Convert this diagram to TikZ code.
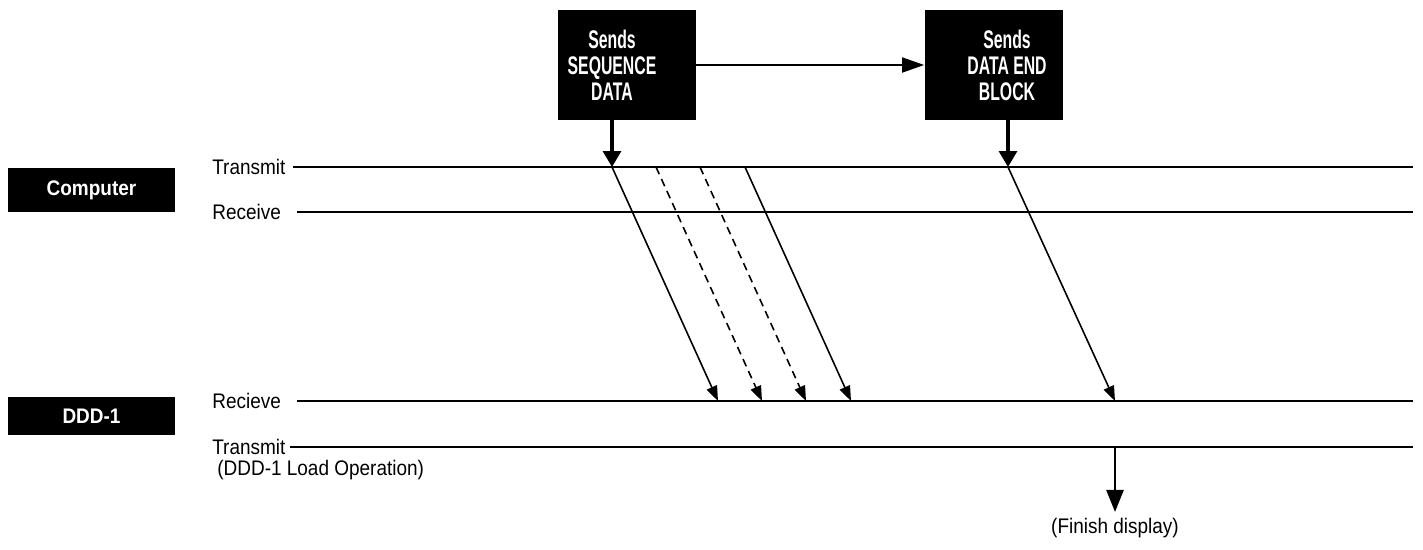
\documentclass[tikz,border=0pt]{standalone}
\usepackage{fontspec}
\setmainfont{Liberation Sans}[FakeStretch=0.9]
\newfontfamily\boxfont{Liberation Sans}[FakeStretch=0.62]
\usetikzlibrary{arrows.meta,positioning}

\begin{document}
\begin{tikzpicture}[
    x=0.02cm, y=-0.02cm,
    font=\fontsize{12}{14.5}\selectfont,
    sendbox/.style={fill=black, minimum width=2.76cm, minimum height=2.2cm, inner sep=0pt},
    sendtext/.style={text=white, align=center, inner sep=0pt, font=\boxfont\bfseries\fontsize{14.5}{14.8}\selectfont},
    unitbox/.style={fill=black, text=white, font=\fontsize{12}{14.5}\selectfont\bfseries, minimum width=3.34cm, inner sep=0pt},
    lane/.style={line width=1.1pt},
    lanelabel/.style={anchor=west, inner sep=0pt},
    push/.style={-{Triangle[length=3.2mm,width=3.6mm]}, line width=1.8pt},
    hand/.style={-{Triangle[length=4.4mm,width=3mm]}, line width=1pt},
    msg/.style={-{Triangle[length=3mm,width=2.2mm]}, line width=0.9pt},
    retry/.style={msg, dash pattern=on 4.5pt off 3pt}
]
\useasboundingbox (0,0) rectangle (1423,549);

% Send steps
\node[sendbox] (seqbox) at (627,65) {};
\node[sendtext] (seqtxt) at (612,65) {Sends\\SEQUENCE\\DATA};
\node[sendbox] (endbox) at (993.5,65) {};
\node[sendtext] (endtxt) at (1007,65) {Sends\\DATA END\\BLOCK};
\draw[hand] (seqbox.east) -- (endbox.west);

% Units
\node[unitbox, minimum height=0.88cm] (computer) at (91.5,190) {Computer};
\node[unitbox, minimum height=0.76cm] (ddd) at (91.5,416) {DDD-1};

% Lane labels
\node[lanelabel] (ctxlbl) at (212,167) {Transmit};
\node[lanelabel] (crxlbl) at (212,212) {Receive};
\node[lanelabel] (drxlbl) at (212,401) {Recieve};
\node[lanelabel] (dtxlbl) at (212,447) {Transmit};
\node[lanelabel] (loadlbl) at (217,470) {(DDD-1 Load Operation)};

% Lane ends
\coordinate (ctxA) at (293,167);  \coordinate (ctxB) at (1413,167);
\coordinate (crxA) at (297,212);  \coordinate (crxB) at (1413,212);
\coordinate (drxA) at (297,401);  \coordinate (drxB) at (1413,401);
\coordinate (dtxA) at (290,447);  \coordinate (dtxB) at (1413,447);

\draw[lane] (ctxA) -- (ctxB);
\draw[lane] (crxA) -- (crxB);
\draw[lane] (drxA) -- (drxB);
\draw[lane] (dtxA) -- (dtxB);

% Sequence data blocks
\foreach \i/\x/\st in {1/612/msg, 2/656/retry, 3/700/retry, 4/745/msg}{
  \coordinate (tx\i) at (\x,167);
  \coordinate (rx\i) at (\x+106,401);
  \draw[\st] (tx\i) -- (rx\i);
}
\draw[push] (seqbox.south -| tx1) -- (tx1);

% Data end block
\coordinate (txend) at (1008,167);
\coordinate (rxend) at (1115,401);
\coordinate (dtxend) at (1115,447);
\draw[push] (endbox.south -| txend) -- (txend);
\draw[msg] (txend) -- (rxend);

\node (finish) at (1115,528) {(Finish display)};
\draw[push, line width=1.5pt, -{Triangle[length=4.4mm,width=3.4mm]}] (dtxend) -- (finish.north);

\end{tikzpicture}
\end{document}
